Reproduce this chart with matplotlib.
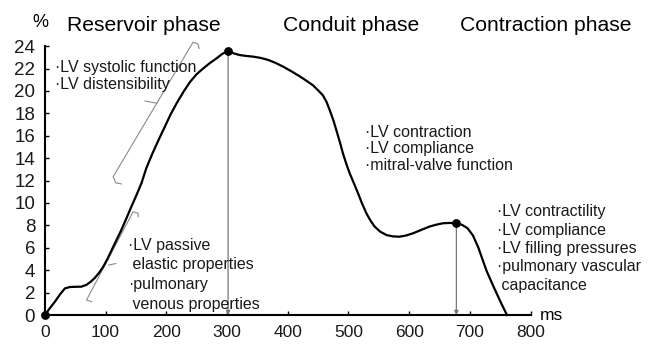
import matplotlib
matplotlib.use("Agg")
import matplotlib.pyplot as plt

plt.rcParams['font.family'] = ['Liberation Sans', 'DejaVu Sans']

# left atrial strain curve (ms, %)
time_ms = [0, 8, 16.5, 25, 33, 41, 50, 60, 68.6, 75, 82, 89, 96, 103, 110, 118, 126, 134,
           142.7, 150, 159, 167, 177, 187, 197.5, 207, 217, 228, 239, 250, 260.6, 272, 282.6,
           292, 301.7, 311, 321, 332, 343, 355, 367.6, 380, 393, 406, 419.8, 431, 441.6, 450,
           458, 464, 469, 475, 480, 486, 491, 497, 502, 509, 515.7, 522, 529.5, 536, 543, 552,
           562.5, 573, 584, 595, 606, 620, 633.7, 645, 655.6, 667, 677.7, 687, 696, 705, 714,
           727, 740, 752, 761]
strain = [0.0, 0.6, 1.19, 1.85, 2.38, 2.5, 2.52, 2.53, 2.7, 2.95, 3.3, 3.75, 4.3, 5.0, 5.8,
          6.7, 7.6, 8.6, 9.7, 10.6, 11.76, 13.1, 14.4, 15.6, 16.8, 17.9, 18.9, 19.9, 20.8,
          21.5, 22.0, 22.5, 22.9, 23.3, 23.57, 23.35, 23.2, 23.12, 23.06, 22.95, 22.77, 22.5,
          22.15, 21.75, 21.3, 20.9, 20.5, 20.05, 19.6, 19.0, 18.3, 17.4, 16.5, 15.4, 14.4,
          13.4, 12.65, 11.75, 10.87, 10.0, 9.08, 8.45, 7.9, 7.45, 7.14, 7.02, 6.99, 7.1, 7.29,
          7.6, 7.9, 8.07, 8.19, 8.22, 8.19, 8.05, 7.75, 7.1, 6.0, 4.0, 2.4, 1.0, 0.0]

# marked points: onset, peak (reservoir), pre-contraction
marker_t = [0, 301.7, 677.7]
marker_s = [0.0, 23.57, 8.19]

phase_names = ['Reservoir phase', 'Conduit phase', 'Contraction phase']
phase_x = [36, 392, 683]

xticks = [0, 100, 200, 300, 400, 500, 600, 700, 800]
yticks = [0, 2, 4, 6, 8, 10, 12, 14, 16, 18, 20, 22, 24]

notes_reservoir_top = ['·LV systolic function', '·LV distensibility']
notes_reservoir_low = ['·LV passive', ' elastic properties', '·pulmonary', ' venous properties']
notes_conduit = ['·LV contraction', '·LV compliance', '·mitral-valve function']
notes_contraction = ['·LV contractility', '·LV compliance', '·LV filling pressures',
                     '·pulmonary vascular', ' capacitance']

fig = plt.figure(figsize=(6.6, 3.52), dpi=100)
ax = fig.add_axes([0.068, 0.105, 0.736, 0.764])

ax.plot(time_ms, strain, color='black', lw=1.6, clip_on=False, zorder=3,
        solid_joinstyle='round')
ax.scatter(marker_t, marker_s, s=28, color='black', zorder=4, clip_on=False)

# arrows from peak points down to the time axis
for t, s in zip(marker_t[1:], marker_s[1:]):
    ax.annotate('', xy=(t, 0), xytext=(t, s),
                arrowprops=dict(arrowstyle='-|>', color='#777777', lw=0.9,
                                mutation_scale=6, shrinkA=0, shrinkB=0), zorder=2)

# brackets along the rising limb
gray = '#8a8a8a'
ax.plot([126, 116.7, 112.5, 244, 252, 254], [11.7, 11.8, 12.35, 24.35, 24.2, 23.8],
        color=gray, lw=0.8, clip_on=False)
ax.plot([184.4, 165], [18.9, 19.1], color=gray, lw=0.8)
ax.plot([76.9, 68.6, 145.3, 153.6, 153.6], [1.19, 1.34, 9.22, 9.08, 8.78],
        color=gray, lw=0.8, clip_on=False)
ax.plot([105.2, 117], [4.46, 4.6], color=gray, lw=0.8)

ax.set_xlim(0, 800)
ax.set_ylim(0, 24)
ax.set_xticks(xticks)
ax.set_yticks(yticks)
for sp in ['top', 'right']:
    ax.spines[sp].set_visible(False)
for sp in ['left', 'bottom']:
    ax.spines[sp].set_linewidth(1.5)
ax.tick_params(direction='in', length=3, width=1, pad=7, colors='black')
ax.tick_params(axis='x', labelsize=12.5)
ax.tick_params(axis='y', labelsize=13.5)
for lbl in ax.get_xticklabels() + ax.get_yticklabels():
    lbl.set_color('#1a1a1a')

for name, x in zip(phase_names, phase_x):
    ax.text(x, 25.8, name, fontsize=15.2, va='center', ha='left', clip_on=False)
ax.text(-20, 26.1, '%', fontsize=13, va='center', ha='left')
ax.text(815, 0.0, 'ms', fontsize=12.5, va='center', ha='left')

def block(lines, x, y0, dy, size=11.5):
    for i, line in enumerate(lines):
        ax.text(x, y0 - i * dy, line, fontsize=size, va='center', ha='left', color='#1a1a1a')

block(notes_reservoir_top, 16.5, 22.05, 1.45)
block(notes_conduit, 528, 16.25, 1.43)
block(notes_reservoir_low, 136.6, 6.25, 1.78)
block(notes_contraction, 744, 9.22, 1.64)

fig.savefig('out.png', dpi=100)
